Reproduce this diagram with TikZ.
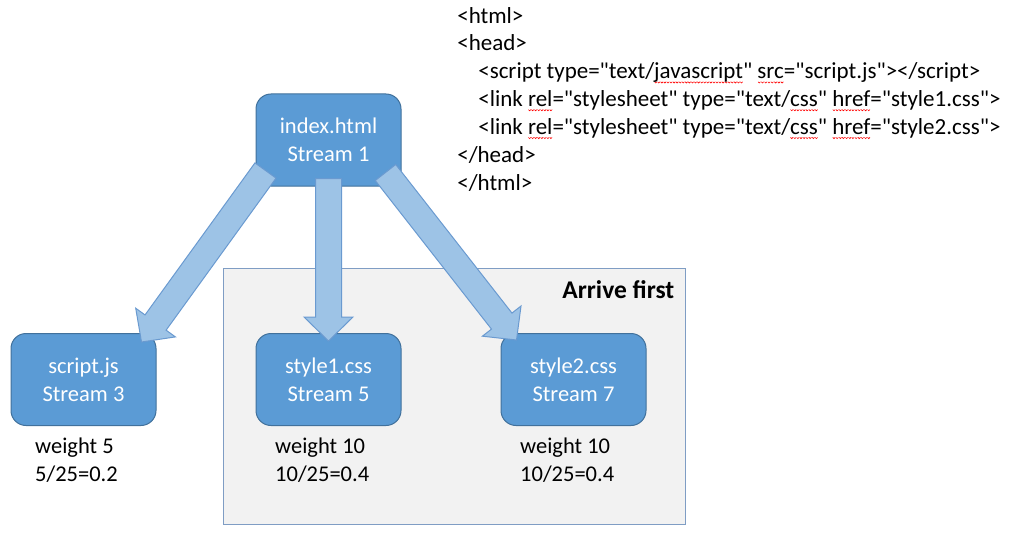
\documentclass[tikz,border=0pt]{standalone}
\usepackage{fontspec}
\setmainfont{Carlito}[Ligatures=TeXOff]
\usetikzlibrary{calc}

\definecolor{boxblue}{HTML}{5B9BD5}
\definecolor{boxedge}{HTML}{41719C}
\definecolor{arrowfill}{HTML}{9DC3E6}
\definecolor{arrowedge}{HTML}{6A9AD0}
\definecolor{groupfill}{HTML}{F2F2F2}
\definecolor{groupedge}{HTML}{7F9DC4}

% red spell-check wave
\newlength{\squigwd}
\newcommand{\squigbit}{\pgfpicture
    \pgfsetlinewidth{0.6pt}\pgfsetstrokecolor{red}
    \pgfpathmoveto{\pgfpoint{0pt}{1.2pt}}\pgfpathlineto{\pgfpoint{1.2pt}{0pt}}
    \pgfpathlineto{\pgfpoint{2.4pt}{1.2pt}}\pgfusepath{stroke}\endpgfpicture}
\newcommand{\squig}[1]{\settowidth{\squigwd}{#1}%
    \rlap{\raisebox{-4.5pt}{\hbox to \squigwd{\xleaders\hbox{\squigbit}\hfil}}}#1}

\begin{document}
\begin{tikzpicture}[x=1pt, y=-1pt,
    file/.style={draw=boxedge, line width=1pt, fill=boxblue, text=white,
        rounded corners=15pt, minimum width=145pt, minimum height=92pt,
        inner sep=0pt, align=center, font=\fontsize{22.5}{28}\selectfont},
    group/.style={draw=groupedge, line width=1pt, fill=groupfill, inner sep=0pt,
        minimum width=462pt, minimum height=256pt},
    note/.style={anchor=base west, align=left, inner sep=0pt,
        font=\fontsize{22.5}{28}\selectfont},
    fat arrow/.style={draw=arrowedge, line width=1pt, fill=arrowfill, line join=miter}]

\useasboundingbox (0,0) rectangle (1032,540);

% Group
\node[group] (first) at (454,396) {};
\node[anchor=base east, inner sep=0pt, font=\fontsize{25.5}{30}\selectfont\bfseries]
    (arrive) at ([xshift=-11pt,yshift=-31pt]first.north east) {Arrive first};

% Streams
\node[file] (idx) at (328.5,140) {index.html\\Stream 1};
\node[file] (js) at (83.5,379.5) {script.js\\Stream 3};
\node[file] (cssa) at (328.5,379.5) {style1.css\\Stream 5};
\node[file] (cssb) at (573.5,379.5) {style2.css\\Stream 7};

% Weights (base = last line)
\node[note] (wjs) at (35,481) {weight 5\\5/25=0.2};
\node[note] (wcssa) at (275,481) {weight 10\\10/25=0.4};
\node[note] (wcssb) at (520,481) {weight 10\\10/25=0.4};

% Markup
\node[note, font=\fontsize{23}{27.8}\selectfont] (markup) at (457,190) {%
    <html>\\
    <head>\\
    \hspace*{21pt}<script type="text/\squig{javascript}" \squig{src}="script.js"></script>\\
    \hspace*{21pt}<link \squig{rel}="stylesheet" type="text/\squig{css}" \squig{href}="style1.css">\\
    \hspace*{21pt}<link \squig{rel}="stylesheet" type="text/\squig{css}" \squig{href}="style2.css">\\
    </head>\\
    </html>};

% Arrow ends
\coordinate (sa) at ([xshift=10pt,yshift=16pt]idx.south west);
\coordinate (ea) at ([xshift=-15pt,yshift=-9pt]js.north east);
\coordinate (sb) at ([yshift=8pt]idx.south);
\coordinate (eb) at ([yshift=-8pt]cssa.north);
\coordinate (sc) at ([xshift=-16pt,yshift=14pt]idx.south east);
\coordinate (ec) at ([xshift=16pt,yshift=-7pt]cssb.north west);

% Block arrows
\foreach \s/\e in {sa/ea, sb/eb, sc/ec} {
    \coordinate (neck) at ($(\e)!24pt!(\s)$);
    \draw[fat arrow] ($(\s)!13pt!90:(\e)$) -- ($(neck)!13pt!90:(\e)$)
        -- ($(neck)!24.5pt!90:(\e)$) -- (\e) -- ($(neck)!24.5pt!-90:(\e)$)
        -- ($(neck)!13pt!-90:(\e)$) -- ($(\s)!13pt!-90:(\e)$) -- cycle;
}

\end{tikzpicture}
\end{document}
